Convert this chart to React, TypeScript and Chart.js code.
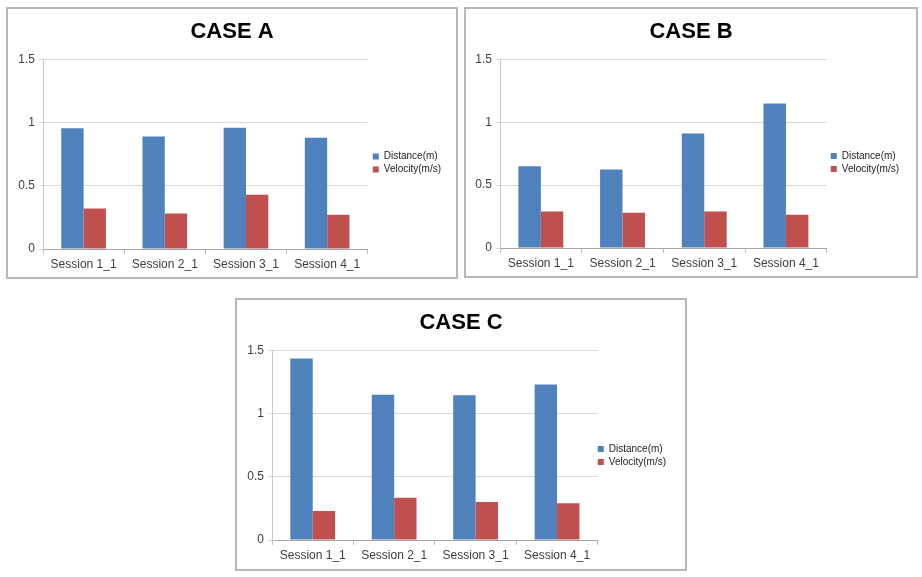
import React, { useEffect, useRef } from "react";
import { Chart, registerables } from "chart.js";

Chart.register(...registerables);

const sessions = ["Session 1_1", "Session 2_1", "Session 3_1", "Session 4_1"];
const seriesNames = ["Distance(m)", "Velocity(m/s)"];
const caseTitles = ["CASE A", "CASE B", "CASE C"];

const caseADistance = [0.955, 0.89, 0.96, 0.88];
const caseAVelocity = [0.32, 0.28, 0.43, 0.27];
const caseBDistance = [0.65, 0.625, 0.91, 1.15];
const caseBVelocity = [0.29, 0.28, 0.29, 0.265];
const caseCDistance = [1.435, 1.15, 1.145, 1.23];
const caseCVelocity = [0.23, 0.335, 0.3, 0.29];

const yMin = 0;
const yMax = 1.5;
const yStep = 0.5;

const BLUE = "#4f81bd";
const RED = "#c0504d";
const FONT = "'Liberation Sans', Arial, sans-serif";

type PanelProps = {
  title: string;
  distance: number[];
  velocity: number[];
  left: number;
  top: number;
  width: number;
  height: number;
  yAxisWidth: number;
  xAxisHeight: number;
  rightPad: number;
  legendDx: number;
  legendDy: number;
};

function Panel(p: PanelProps) {
  const ref = useRef<HTMLCanvasElement | null>(null);
  const cw = p.width - 4;
  const ch = p.height - 4;
  useEffect(() => {
    if (!ref.current) return;
    const shiftPlugin = {
      id: "shiftBoxes",
      afterLayout(chart: any) {
        if (chart.titleBlock) {
          chart.titleBlock.left = 0;
          chart.titleBlock.right = chart.width;
        }
        if (chart.legend) {
          chart.legend.left += p.legendDx;
          chart.legend.right += p.legendDx;
          chart.legend.top += p.legendDy;
          chart.legend.bottom += p.legendDy;
        }
      },
    };
    const chart = new Chart(ref.current, {
      type: "bar",
      data: {
        labels: sessions,
        datasets: [
          { label: seriesNames[0], data: p.distance, backgroundColor: BLUE, borderWidth: 0 },
          { label: seriesNames[1], data: p.velocity, backgroundColor: RED, borderWidth: 0 },
        ],
      },
      plugins: [shiftPlugin],
      options: {
        responsive: false,
        animation: false,
        devicePixelRatio: 1,
        layout: { padding: { left: 0, right: p.rightPad, top: 0, bottom: 0 } },
        datasets: { bar: { barPercentage: 1, categoryPercentage: 0.55 } },
        plugins: {
          title: {
            display: true,
            text: p.title,
            color: "#000000",
            font: { family: FONT, size: 22, weight: "bold" },
            padding: { top: 10, bottom: 14 },
          },
          legend: {
            display: true,
            position: "right",
            align: "center",
            labels: {
              boxWidth: 6,
              boxHeight: 6,
              padding: 3,
              color: "#222222",
              font: { family: FONT, size: 10, lineHeight: 1 },
            },
          },
          tooltip: { enabled: false },
        },
        scales: {
          x: {
            afterFit: (s: any) => { s.height = p.xAxisHeight; },
            grid: { offset: true, drawOnChartArea: false, drawTicks: true, tickLength: 5, color: "#bfbfbf" },
            border: { display: true, color: "#a6a6a6" },
            ticks: { color: "#404040", padding: 3, font: { family: FONT, size: 12 }, maxRotation: 0 },
          },
          y: {
            min: yMin,
            max: yMax,
            afterFit: (s: any) => { s.width = p.yAxisWidth; },
            ticks: {
              stepSize: yStep,
              color: "#404040",
              padding: 4,
              font: { family: FONT, size: 12 },
              callback: (v: any) => String(Number(v)),
            },
            grid: { color: "#d9d9d9", drawTicks: true, tickLength: 4 },
            border: { display: true, color: "#c8c8c8" },
          },
        },
      },
    });
    return () => chart.destroy();
  }, []);
  return (
    <div
      style={{
        position: "absolute",
        left: p.left,
        top: p.top,
        width: p.width,
        height: p.height,
        border: "2px solid #b8b8b8",
        boxSizing: "border-box",
        background: "#ffffff",
      }}
    >
      <canvas ref={ref} width={cw} height={ch} style={{ display: "block", width: cw, height: ch }} />
    </div>
  );
}

export default function App() {
  return (
    <div style={{ position: "absolute", left: 0, top: 0, width: 922, height: 577, background: "#ffffff" }}>
      <Panel title={caseTitles[0]} distance={caseADistance} velocity={caseAVelocity}
        left={6} top={7} width={452} height={272} yAxisWidth={35} xAxisHeight={28} rightPad={7}
        legendDx={2} legendDy={20} />
      <Panel title={caseTitles[1]} distance={caseBDistance} velocity={caseBVelocity}
        left={464} top={7} width={454} height={271} yAxisWidth={34} xAxisHeight={28} rightPad={8}
        legendDx={1} legendDy={20} />
      <Panel title={caseTitles[2]} distance={caseCDistance} velocity={caseCVelocity}
        left={235} top={298} width={452} height={273} yAxisWidth={35} xAxisHeight={29} rightPad={6}
        legendDx={-3} legendDy={21} />
    </div>
  );
}
